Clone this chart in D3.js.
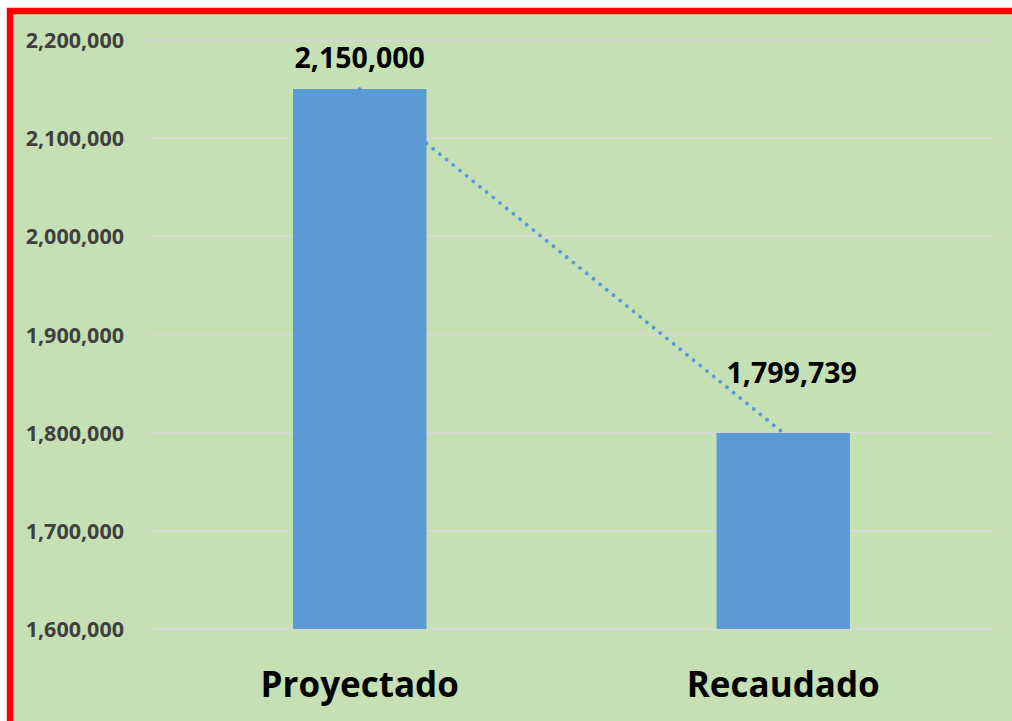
<!DOCTYPE html>
<html>
<head>
<meta charset="utf-8">
<script src="https://cdn.jsdelivr.net/npm/d3@7"></script>
<style>
  html, body { margin: 0; padding: 0; background: #ffffff; }
  svg { display: block; }
</style>
</head>
<body>
<script>
const categories = ["Proyectado", "Recaudado"];
const values = [2150000, 1799739];
const labels = ["2,150,000", "1,799,739"];
const yTicks = [1600000, 1700000, 1800000, 1900000, 2000000, 2100000, 2200000];

const W = 1012, H = 721;
const svg = d3.select("body").append("svg").attr("width", W).attr("height", H);

// background panel with red frame
svg.append("rect").attr("x", 13).attr("y", 14).attr("width", W).attr("height", H)
  .attr("fill", "#C5E0B4");
svg.append("rect").attr("x", 10).attr("y", 11).attr("width", W + 20).attr("height", H + 20)
  .attr("fill", "none").attr("stroke", "#FF0000").attr("stroke-width", 6.5);

const plot = { left: 148, right: 995, top: 40, bottom: 629 };

const x = d3.scaleBand().domain(categories).range([plot.left, plot.right])
  .paddingInner(0.685).paddingOuter(0.3425);
const y = d3.scaleLinear().domain([1600000, 2200000]).range([plot.bottom, plot.top]);

// gridlines
svg.append("g").selectAll("line").data(yTicks).join("line")
  .attr("x1", plot.left).attr("x2", plot.right)
  .attr("y1", d => y(d)).attr("y2", d => y(d))
  .attr("stroke", "#D9D9D9").attr("stroke-width", 1.5);

// y axis labels
const fmt = d3.format(",");
svg.append("g").selectAll("text").data(yTicks).join("text")
  .attr("x", 124).attr("y", d => y(d) + 8)
  .attr("text-anchor", "end")
  .attr("font-family", "Open Sans, sans-serif").attr("font-weight", "bold")
  .attr("font-size", 21.5).attr("fill", "#404040")
  .text(d => fmt(d));

// bars
svg.append("g").selectAll("rect").data(categories).join("rect")
  .attr("x", d => x(d)).attr("width", x.bandwidth())
  .attr("y", (d, i) => y(values[i]))
  .attr("height", (d, i) => y(1600000) - y(values[i]))
  .attr("fill", "#5B9BD5");

// trendline (dotted)
const line = d3.line().x(d => x(d.c) + x.bandwidth() / 2).y(d => y(d.v));
svg.append("path")
  .datum(categories.map((c, i) => ({ c, v: values[i] })))
  .attr("d", line)
  .attr("fill", "none").attr("stroke", "#5B9BD5")
  .attr("stroke-width", 3.8).attr("stroke-linecap", "round")
  .attr("stroke-dasharray", "0.1 8.5");

// data labels
const labelOffsets = [{ dx: 0, dy: -21 }, { dx: 8.5, dy: -50 }];
svg.append("g").selectAll("text").data(categories).join("text")
  .attr("x", (d, i) => x(d) + x.bandwidth() / 2 + labelOffsets[i].dx)
  .attr("y", (d, i) => y(values[i]) + labelOffsets[i].dy)
  .attr("text-anchor", "middle")
  .attr("font-family", "Open Sans, sans-serif").attr("font-weight", "bold")
  .attr("font-size", 28.5).attr("fill", "#000000")
  .text((d, i) => labels[i]);

// category labels
svg.append("g").selectAll("text").data(categories).join("text")
  .attr("x", d => x(d) + x.bandwidth() / 2)
  .attr("y", 697)
  .attr("text-anchor", "middle")
  .attr("font-family", "Open Sans, sans-serif").attr("font-weight", "bold")
  .attr("font-size", 35).attr("fill", "#000000")
  .text(d => d);
</script>
</body>
</html>
